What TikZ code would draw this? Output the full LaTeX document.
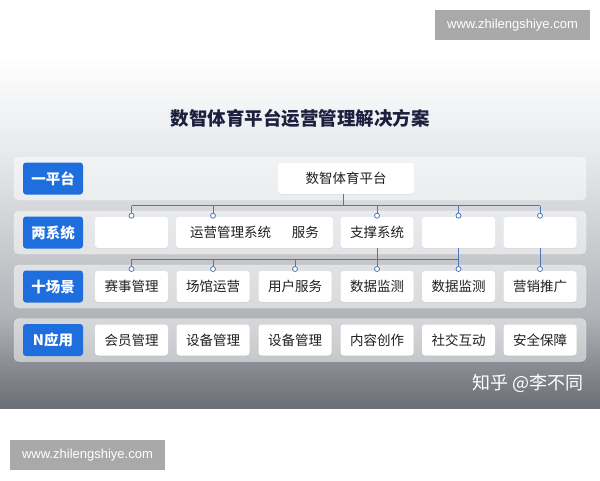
\documentclass[tikz,border=0pt]{standalone}
\usepackage{fontspec}
\setmainfont{Noto Sans CJK SC}
\newfontfamily\wmfont{Liberation Sans}
\usetikzlibrary{shadows}
\definecolor{labblue}{RGB}{30,110,222}
\definecolor{connc}{RGB}{78,118,184}
\definecolor{titlec}{RGB}{28,32,62}
\definecolor{wmgray}{RGB}{169,169,169}
\definecolor{bgA}{RGB}{232,234,237}
\definecolor{bgB}{RGB}{196,198,202}
\definecolor{bgC}{RGB}{176,179,184}
\definecolor{bgD}{RGB}{140,143,149}
\definecolor{bgE}{RGB}{106,110,117}
\begin{document}
\begin{tikzpicture}[x=1pt,y=-1pt,
  band/.style={fill=white,fill opacity=0.5,draw=white,draw opacity=0.6,rounded corners=5pt},
  box/.style={fill=white,rounded corners=3pt,minimum width=73pt,minimum height=31pt,inner sep=0pt,
    text=black!88,font=\fontsize{13.5}{16}\selectfont,
    drop shadow={shadow xshift=0pt,shadow yshift=-1pt,opacity=0.12}},
  lab/.style={fill=labblue,rounded corners=3pt,minimum width=60pt,minimum height=32pt,inner sep=0pt,
    text=white,font=\fontsize{14.5}{16}\selectfont\bfseries},
  conn/.style={draw=connc,line width=0.8pt},
  dot/.style={circle,draw=connc,fill=white,line width=0.8pt,inner sep=0pt,minimum size=5pt},
  wm/.style={fill=wmgray,text=white,inner sep=0pt,font=\wmfont\fontsize{13}{15}\selectfont}
]
\path[use as bounding box] (0,0) rectangle (600,480);
\fill[white] (0,0) rectangle (600,480);
% background gradient
\shade[top color=white,bottom color=bgA] (0,55) rectangle (600,150.5);
\shade[top color=bgA,bottom color=bgB] (0,150) rectangle (600,260.5);
\shade[top color=bgB,bottom color=bgC] (0,260) rectangle (600,315.5);
\shade[top color=bgC,bottom color=bgD] (0,315) rectangle (600,362.5);
\shade[top color=bgD,bottom color=bgE] (0,362) rectangle (600,408);
% watermarks
\node[wm,minimum width=155pt,minimum height=30pt] (wm1) at (512.5,25) {www.zhilengshiye.com};
\node[wm,minimum width=155pt,minimum height=30pt] (wm2) at (87.5,455) {www.zhilengshiye.com};
% title
\node[text=titlec,font=\fontsize{18.5}{22}\selectfont\bfseries] (title) at (300,118) {数智体育平台运营管理解决方案};
% bands
\foreach \yc in {178.5,232.5,286.5,340} {
  \path[band] (14,\yc-21.5) rectangle (586,\yc+21.5);
}
% labels
\node[lab] (l1) at (53,178.5) {一平台};
\node[lab] (l2) at (53,232.5) {两系统};
\node[lab] (l3) at (53,286.5) {十场景};
\node[lab] (l4) at (53,340) {N应用};
% row 1
\node[box,minimum width=136pt] (plat) at (346,178.5) {数智体育平台};
% row 2
\node[box] (r2c1) at (131.5,232.5) {};
\node[box,minimum width=157pt] (r2w) at (254.5,232.5) {运营管理系统\hspace{21pt}服务};
\node[box] (r2c4) at (377,232.5) {支撑系统};
\node[box] (r2c5) at (458.5,232.5) {};
\node[box] (r2c6) at (540,232.5) {};
% row 3
\node[box] (r3c1) at (131.5,286.5) {赛事管理};
\node[box] (r3c2) at (213,286.5) {场馆运营};
\node[box] (r3c3) at (295,286.5) {用户服务};
\node[box] (r3c4) at (377,286.5) {数据监测};
\node[box] (r3c5) at (458.5,286.5) {数据监测};
\node[box] (r3c6) at (540,286.5) {营销推广};
% row 4
\node[box] (r4c1) at (131.5,340) {会员管理};
\node[box] (r4c2) at (213,340) {设备管理};
\node[box] (r4c3) at (295,340) {设备管理};
\node[box] (r4c4) at (377,340) {内容创作};
\node[box] (r4c5) at (458.5,340) {社交互动};
\node[box] (r4c6) at (540,340) {安全保障};
% connectors row 1 -> row 2
\coordinate (h1) at (0,205.7);
\coordinate (d1) at (0,215.7);
\coordinate (pb) at ([xshift=-3pt]plat.south);
\draw[conn] (pb) -- (pb |- h1);
\draw[conn] (r2c1.north |- h1) -- (r2c6.north |- h1);
\foreach \n in {r2c1,r3c2,r2c4,r2c5,r2c6} {
  \draw[conn] (\n.north |- h1) -- (\n.north |- d1);
}
\node[dot] (a1) at (r2c1.north |- d1) {};
\node[dot] (a2) at (r3c2.north |- d1) {};
\node[dot] (a4) at (r2c4.north |- d1) {};
\node[dot] (a5) at (r2c5.north |- d1) {};
\node[dot] (a6) at (r2c6.north |- d1) {};
% connectors row 2 -> row 3
\coordinate (h2) at (0,259.3);
\coordinate (d2) at (0,269);
\draw[conn] (r3c1.north |- h2) -- (r3c5.north |- h2);
\foreach \n in {r3c1,r3c2,r3c3} {
  \draw[conn] (\n.north |- h2) -- (\n.north |- d2);
}
\draw[conn] (r2c4.south) -- (r3c4.north |- d2);
\draw[conn] (r2c5.south) -- (r3c5.north |- d2);
\draw[conn] (r2c6.south) -- (r3c6.north |- d2);
\node[dot] (b1) at (r3c1.north |- d2) {};
\node[dot] (b2) at (r3c2.north |- d2) {};
\node[dot] (b3) at (r3c3.north |- d2) {};
\node[dot] (b4) at (r3c4.north |- d2) {};
\node[dot] (b5) at (r3c5.north |- d2) {};
\node[dot] (b6) at (r3c6.north |- d2) {};
% credit
\node[anchor=east,text=white,font=\fontsize{18}{20}\selectfont,inner sep=0pt] (credit) at (584,383) {知乎 @李不同};
\end{tikzpicture}
\end{document}
